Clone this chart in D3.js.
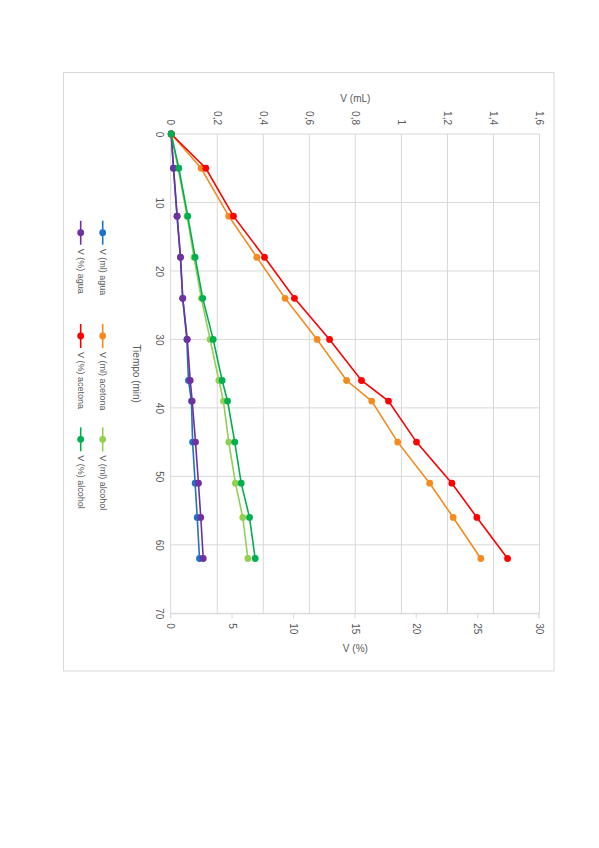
<!DOCTYPE html>
<html>
<head>
<meta charset="utf-8">
<script src="https://cdn.jsdelivr.net/npm/d3@7"></script>
<style>
  body { margin: 0; background: #fff; }
  svg text { font-family: "Liberation Sans", Arial, sans-serif; fill: #595959; }
</style>
</head>
<body>
<svg id="chart" width="599" height="848"></svg>
<script>
// data
var tiempo = [0, 5, 12, 18, 24, 30, 36, 39, 45, 51, 56, 62];
var mlAgua    = [0, 0.010, 0.025, 0.040, 0.050, 0.068, 0.075, 0.088, 0.093, 0.104, 0.113, 0.123];
var mlAcetona = [0, 0.130, 0.250, 0.372, 0.495, 0.634, 0.762, 0.871, 0.984, 1.123, 1.225, 1.345];
var mlAlcohol = [0, 0.030, 0.069, 0.099, 0.131, 0.169, 0.207, 0.227, 0.250, 0.279, 0.311, 0.333];
var pctAgua    = [0, 0.19, 0.49, 0.76, 0.94, 1.31, 1.55, 1.71, 1.98, 2.22, 2.41, 2.61];
var pctAcetona = [0, 2.82, 5.07, 7.60, 10.04, 12.90, 15.50, 17.70, 19.98, 22.86, 24.90, 27.40];
var pctAlcohol = [0, 0.62, 1.35, 1.95, 2.57, 3.42, 4.15, 4.59, 5.18, 5.70, 6.38, 6.84];

var tiempoTicks = [0, 10, 20, 30, 40, 50, 60, 70];
var mlTicks = [0, 0.2, 0.4, 0.6, 0.8, 1, 1.2, 1.4, 1.6];
var mlTickLabels = ["0", "0,2", "0,4", "0,6", "0,8", "1", "1,2", "1,4", "1,6"];
var pctTicks = [0, 5, 10, 15, 20, 25, 30];

var series = [
  { name: "V (ml) agua",    values: mlAgua,     axis: "ml",  color: "#1f72c4" },
  { name: "V (ml) acetona", values: mlAcetona,  axis: "ml",  color: "#f58b1f" },
  { name: "V (ml) alcohol", values: mlAlcohol,  axis: "ml",  color: "#92d050" },
  { name: "V (%) agua",     values: pctAgua,    axis: "pct", color: "#7030a0" },
  { name: "V (%) acetona",  values: pctAcetona, axis: "pct", color: "#ff0000" },
  { name: "V (%) alcohol",  values: pctAlcohol, axis: "pct", color: "#00b050" }
];

var svg = d3.select("#chart");

// outer chart box
svg.append("rect")
  .attr("x", 63.5).attr("y", 72.5)
  .attr("width", 490.5).attr("height", 598.5)
  .attr("fill", "none").attr("stroke", "#d9d9d9");

// the whole chart is drawn upright and then turned a quarter clockwise
var width = 479.3, height = 368.3;
var g = svg.append("g")
  .attr("transform", "translate(539.5,134) rotate(90)");

var x = d3.scaleLinear().domain([0, 70]).range([0, width]);
var yMl = d3.scaleLinear().domain([0, 1.6]).range([height, 0]);
var yPct = d3.scaleLinear().domain([0, 30]).range([height, 0]);

// grid
g.append("g").selectAll("line")
  .data(mlTicks.slice(1))
  .join("line")
  .attr("x1", 0).attr("x2", width)
  .attr("y1", d => yMl(d)).attr("y2", d => yMl(d))
  .attr("stroke", "#d9d9d9");
g.append("g").selectAll("line")
  .data(tiempoTicks)
  .join("line")
  .attr("x1", d => x(d)).attr("x2", d => x(d))
  .attr("y1", 0).attr("y2", height)
  .attr("stroke", "#d9d9d9");

// time axis
var xAxis = g.append("g")
  .attr("transform", "translate(0," + height + ")")
  .call(d3.axisBottom(x).tickValues(tiempoTicks).tickSize(0).tickPadding(8));
xAxis.select(".domain").attr("stroke", "#d9d9d9");
xAxis.selectAll("text").style("font-size", "10px").style("fill", "#595959");

// mL axis
var mlAxis = g.append("g")
  .call(d3.axisLeft(yMl).tickValues(mlTicks).tickSize(0).tickPadding(9)
    .tickFormat((d, i) => mlTickLabels[i]));
mlAxis.select(".domain").remove();
mlAxis.selectAll("text").style("font-size", "10px").style("fill", "#595959");

// % axis
var pctAxis = g.append("g")
  .attr("transform", "translate(" + width + ",0)")
  .call(d3.axisRight(yPct).tickValues(pctTicks).tickSizeOuter(0).tickSize(5).tickPadding(5));
pctAxis.select(".domain").attr("stroke", "#d9d9d9");
pctAxis.selectAll("line").attr("stroke", "#d9d9d9");
pctAxis.selectAll("text").style("font-size", "10px").style("fill", "#595959");

// axis titles
g.append("text")
  .attr("transform", "translate(" + (width / 2) + "," + (height + 35) + ")")
  .attr("text-anchor", "middle")
  .attr("dy", "0.35em")
  .style("font-size", "10px")
  .text("Tiempo (min)");
g.append("text")
  .attr("transform", "translate(-36," + (height / 2) + ") rotate(-90)")
  .attr("text-anchor", "middle")
  .attr("dy", "0.35em")
  .style("font-size", "10px")
  .text("V (mL)");
g.append("text")
  .attr("transform", "translate(" + (width + 35) + "," + (height / 2) + ") rotate(-90)")
  .attr("text-anchor", "middle")
  .attr("dy", "0.35em")
  .style("font-size", "10px")
  .text("V (%)");

// lines and points
series.forEach(function (s) {
  var y = s.axis === "ml" ? yMl : yPct;
  var pts = tiempo.map((t, i) => [t, s.values[i]]);
  g.append("path")
    .datum(pts)
    .attr("fill", "none")
    .attr("stroke", s.color)
    .attr("stroke-width", 1.6)
    .attr("d", d3.line().x(d => x(d[0])).y(d => y(d[1])));
  g.append("g").selectAll("circle")
    .data(pts)
    .join("circle")
    .attr("cx", d => x(d[0]))
    .attr("cy", d => y(d[1]))
    .attr("r", 3.4)
    .attr("fill", s.color);
});

// legend, 3 columns x 2 rows
var legend = g.append("g").attr("transform", "translate(86.7," + (height + 68.5) + ")");
series.forEach(function (s, i) {
  var col = i % 3, row = Math.floor(i / 3);
  var item = legend.append("g")
    .attr("transform", "translate(" + (col * 103.3) + "," + (row * 22) + ")");
  item.append("line")
    .attr("x1", 0).attr("x2", 24)
    .attr("stroke", s.color).attr("stroke-width", 1.6);
  item.append("circle").attr("cx", 12).attr("r", 3.4).attr("fill", s.color);
  item.append("text")
    .attr("x", 28).attr("dy", "0.35em")
    .style("font-size", "9px")
    .text(s.name);
});
</script>
</body>
</html>
